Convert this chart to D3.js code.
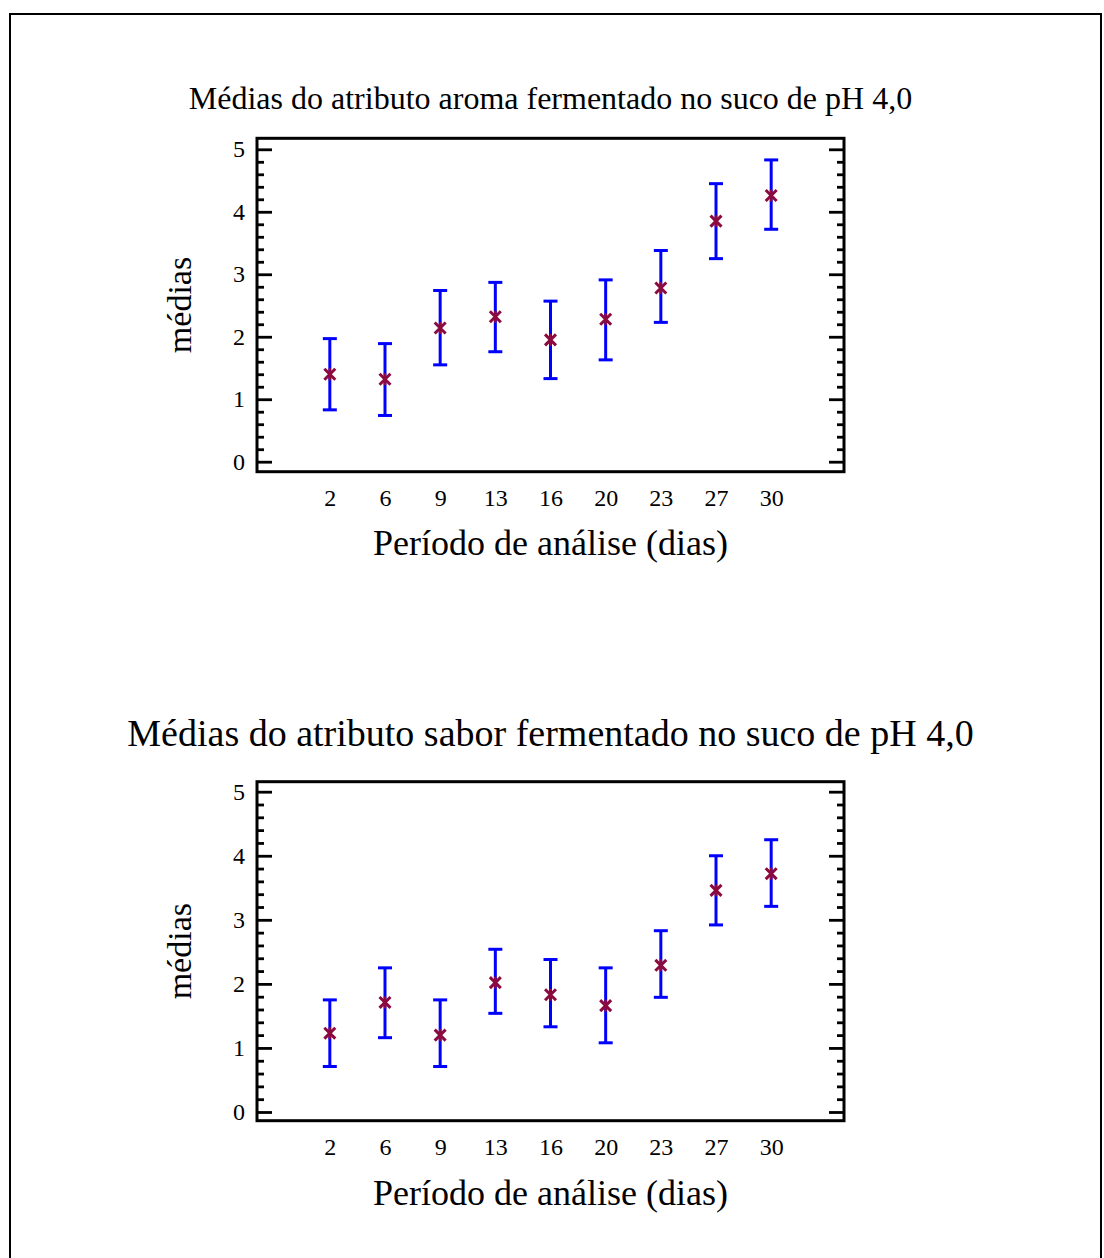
<!DOCTYPE html>
<html>
<head>
<meta charset="utf-8">
<script src="https://cdn.jsdelivr.net/npm/d3@7"></script>
<style>
  body { margin: 0; background: #fff; }
  svg { display: block; font-family: "Liberation Serif", "Times New Roman", serif; }
</style>
</head>
<body>
<svg width="1104" height="1258"></svg>
<script>
// dias de análise (categorias do eixo x)
var dias = ["2", "6", "9", "13", "16", "20", "23", "27", "30"];
var yTicks = [0, 1, 2, 3, 4, 5];

// aroma fermentado
var aromaMedia = [1.40, 1.32, 2.14, 2.32, 1.95, 2.28, 2.78, 3.85, 4.26];
var aromaInf   = [0.83, 0.74, 1.55, 1.76, 1.33, 1.63, 2.23, 3.25, 3.72];
var aromaSup   = [1.97, 1.89, 2.74, 2.87, 2.57, 2.91, 3.38, 4.45, 4.83];

// sabor fermentado
var saborMedia = [1.23, 1.71, 1.20, 2.02, 1.83, 1.66, 2.29, 3.46, 3.72];
var saborInf   = [0.71, 1.16, 0.71, 1.54, 1.33, 1.08, 1.79, 2.92, 3.21];
var saborSup   = [1.75, 2.25, 1.75, 2.54, 2.38, 2.25, 2.83, 4.00, 4.25];

var svg = d3.select("svg");

// moldura externa
svg.append("rect")
  .attr("x", 10).attr("y", 14)
  .attr("width", 1091).attr("height", 1260)
  .attr("fill", "none").attr("stroke", "#000").attr("stroke-width", 2);

var drawPanel = function(cfg){
  var left = 257, right = 844;
  var g = svg.append("g");

  var x = d3.scalePoint()
    .domain(dias)
    .range([left, right])
    .padding(1.32);

  var y = d3.scaleLinear()
    .domain(cfg.yDomain)
    .range([cfg.bottom, cfg.top]);

  // titulo
  g.append("text")
    .attr("x", (left + right) / 2)
    .attr("y", cfg.titleY)
    .attr("text-anchor", "middle")
    .attr("font-size", cfg.titleSize)
    .text(cfg.title);

  // ticks menores (0.2) e maiores, esquerda e direita, para dentro
  var minor = d3.range(0, 5.001, 0.2).filter(function(v){ return Math.abs(v - Math.round(v)) > 1e-6; });

  var yLeft = d3.axisLeft(y).tickValues(yTicks).tickSize(-15).tickPadding(12).tickFormat(d3.format("d")).tickSizeOuter(0);
  var yLeftMinor = d3.axisLeft(y).tickValues(minor).tickSize(-7).tickFormat("").tickSizeOuter(0);
  var yRight = d3.axisRight(y).tickValues(yTicks).tickSize(-15).tickFormat("").tickSizeOuter(0);
  var yRightMinor = d3.axisRight(y).tickValues(minor).tickSize(-7).tickFormat("").tickSizeOuter(0);

  [[yLeft, left], [yLeftMinor, left], [yRight, right], [yRightMinor, right]].forEach(function(a){
    var ax = g.append("g")
      .attr("transform", "translate(" + a[1] + ",0)")
      .call(a[0]);
    ax.select(".domain").remove();
    ax.selectAll(".tick line").attr("stroke", "#000").attr("stroke-width", 2.8);
    ax.selectAll(".tick text")
      .attr("font-family", "Liberation Serif, serif")
      .attr("font-size", 24)
      .attr("fill", "#000");
  });

  // eixo x: apenas rótulos
  var xAxis = d3.axisBottom(x).tickSize(0).tickPadding(17);
  var xa = g.append("g")
    .attr("transform", "translate(0," + cfg.bottom + ")")
    .call(xAxis);
  xa.select(".domain").remove();
  xa.selectAll(".tick text")
    .attr("font-family", "Liberation Serif, serif")
    .attr("font-size", 24)
    .attr("fill", "#000");

  // quadro do gráfico
  g.append("rect")
    .attr("x", left).attr("y", cfg.top)
    .attr("width", right - left).attr("height", cfg.bottom - cfg.top)
    .attr("fill", "none").attr("stroke", "#000").attr("stroke-width", 3);

  // rótulos dos eixos
  g.append("text")
    .attr("x", (left + right) / 2)
    .attr("y", cfg.xLabelY)
    .attr("text-anchor", "middle")
    .attr("font-size", 36)
    .text("Período de análise (dias)");

  g.append("text")
    .attr("transform", "translate(" + 191 + "," + ((cfg.top + cfg.bottom) / 2) + ") rotate(-90)")
    .attr("text-anchor", "middle")
    .attr("font-size", 34)
    .text("médias");

  // barras de erro
  var bars = g.selectAll(".bar")
    .data(dias)
    .enter()
    .append("g")
    .attr("class", "bar");

  bars.append("line")
    .attr("x1", function(d){ return x(d); })
    .attr("x2", function(d){ return x(d); })
    .attr("y1", function(d, i){ return y(cfg.inf[i]); })
    .attr("y2", function(d, i){ return y(cfg.sup[i]); })
    .attr("stroke", "#0000ff").attr("stroke-width", 3);

  [cfg.inf, cfg.sup].forEach(function(arr){
    bars.append("line")
      .attr("x1", function(d){ return x(d) - 7; })
      .attr("x2", function(d){ return x(d) + 7; })
      .attr("y1", function(d, i){ return y(arr[i]); })
      .attr("y2", function(d, i){ return y(arr[i]); })
      .attr("stroke", "#0000ff").attr("stroke-width", 3);
  });

  // marcadores da média (asterisco)
  var star = d3.symbol().type(d3.symbolX).size(80);
  bars.append("path")
    .attr("d", star)
    .attr("transform", function(d, i){ return "translate(" + x(d) + "," + y(cfg.media[i]) + ")"; })
    .attr("fill", "none")
    .attr("stroke", "#8b0a3f").attr("stroke-width", 3);
  bars.append("line")
    .attr("x1", function(d){ return x(d); })
    .attr("x2", function(d){ return x(d); })
    .attr("y1", function(d, i){ return y(cfg.media[i]) - 6; })
    .attr("y2", function(d, i){ return y(cfg.media[i]) + 6; })
    .attr("stroke", "#8b0a3f").attr("stroke-width", 2.5);
}

drawPanel({
  title: "Médias do atributo aroma fermentado no suco de pH 4,0",
  titleY: 109, titleSize: 32,
  top: 138.3, bottom: 471.7, yDomain: [-0.16, 5.176],
  xLabelY: 555,
  media: aromaMedia, inf: aromaInf, sup: aromaSup
});

drawPanel({
  title: "Médias do atributo sabor fermentado no suco de pH 4,0",
  titleY: 746, titleSize: 38,
  top: 781.7, bottom: 1120.7, yDomain: [-0.136, 5.156],
  xLabelY: 1205,
  media: saborMedia, inf: saborInf, sup: saborSup
});
</script>
</body>
</html>
